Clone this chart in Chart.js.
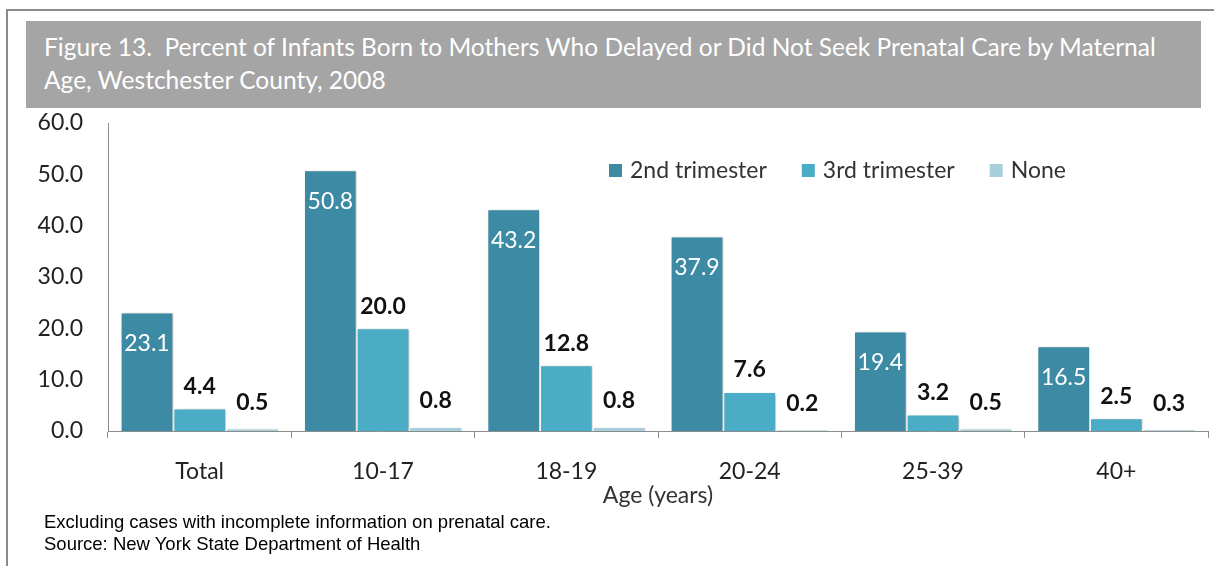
<!DOCTYPE html>
<html lang="en">
<head>
<meta charset="UTF-8" />
<title>Figure 13 - Prenatal Care by Maternal Age</title>
<script src="https://cdn.jsdelivr.net/npm/chart.js"></script>
<style>
  body { margin: 0; background: #fff; }
  .frame { position: relative; width: 1214px; height: 566px; overflow: hidden; }
  .line-top { position: absolute; top: 9px; left: 6px; right: 0; height: 2px; background: #8c8c8c; }
  .line-left { position: absolute; top: 9px; left: 6px; bottom: 0; width: 2px; background: #8c8c8c; }
  .title-box {
    position: absolute; left: 26px; top: 21px; width: 1175px; height: 87px;
    background: #a5a5a5; color: #fff; box-sizing: border-box;
    padding: 9px 0 0 18px; font-family: Lato, sans-serif; font-size: 25px; line-height: 33px;
  }
  .note {
    position: absolute; left: 44px; top: 511px; font-family: "Liberation Sans", Arial, sans-serif;
    font-size: 18.5px; line-height: 22px; color: #000;
  }
  canvas { position: absolute; left: 0; top: 0; }
</style>
</head>
<body>
<div class="frame">
  <div class="line-top"></div>
  <div class="line-left"></div>
  <div class="title-box" id="title">Figure 13.&nbsp; Percent of Infants Born to Mothers Who Delayed or Did Not Seek Prenatal Care by Maternal<br>Age, Westchester County, 2008</div>
  <canvas id="chart" width="1214" height="566"></canvas>
  <div class="note">Excluding cases with incomplete information on prenatal care.<br>Source: New York State Department of Health</div>
</div>
<script>
  const ageGroups = ['Total', '10-17', '18-19', '20-24', '25-39', '40+'];
  const secondTrimester = [23.1, 50.8, 43.2, 37.9, 19.4, 16.5];
  const thirdTrimester = [4.4, 20.0, 12.8, 7.6, 3.2, 2.5];
  const noCare = [0.5, 0.8, 0.8, 0.2, 0.5, 0.3];
  const yTicks = [0, 10, 20, 30, 40, 50, 60];

  const FONT = 'Lato, sans-serif';

  // soft shadow behind the bars, like the Excel original
  const barShadow = {
    id: 'barShadow',
    beforeDatasetsDraw(chart) {
      const ctx = chart.ctx;
      ctx.save();
      ctx.shadowColor = 'rgba(0,0,0,0.28)';
      ctx.shadowBlur = 3;
      ctx.shadowOffsetX = 1.5;
      ctx.shadowOffsetY = 1;
    },
    afterDatasetsDraw(chart) {
      chart.ctx.restore();
    }
  };

  const valueLabels = {
    id: 'valueLabels',
    afterDatasetsDraw(chart) {
      const ctx = chart.ctx;
      const offsets = [31, -22, -26];
      ctx.save();
      ctx.textAlign = 'center';
      ctx.textBaseline = 'middle';
      chart.data.datasets.forEach((ds, i) => {
        const meta = chart.getDatasetMeta(i);
        ctx.font = (i === 0 ? '' : 'bold ') + '23px ' + FONT;
        ctx.fillStyle = i === 0 ? '#ffffff' : '#111111';
        meta.data.forEach((bar, j) => {
          ctx.fillText(ds.data[j].toFixed(1), bar.x, bar.y + offsets[i]);
        });
      });
      ctx.restore();
    }
  };

  const insideLegend = {
    id: 'insideLegend',
    afterDraw(chart) {
      const ctx = chart.ctx;
      let x = 609;
      const y = 171;
      ctx.save();
      ctx.font = '23px ' + FONT;
      ctx.textBaseline = 'middle';
      chart.data.datasets.forEach(ds => {
        ctx.fillStyle = ds.backgroundColor;
        ctx.fillRect(x, y - 7, 13, 13);
        ctx.fillStyle = '#333333';
        ctx.fillText(ds.label, x + 21, y);
        x += 21 + ctx.measureText(ds.label).width + 35;
      });
      ctx.restore();
    }
  };

  // fit the title's first line to the original width
  (function fitTitle() {
    const c = document.createElement('canvas').getContext('2d');
    c.font = '25px ' + FONT;
    const w = c.measureText('Figure 13.\u00a0 Percent of Infants Born to Mothers Who Delayed or Did Not Seek Prenatal Care by Maternal').width;
    document.getElementById('title').style.fontSize = (25 * 1114 / w).toFixed(2) + 'px';
  })();

  new Chart(document.getElementById('chart'), {
    type: 'bar',
    data: {
      labels: ageGroups,
      datasets: [
        { label: '2nd trimester', data: secondTrimester, backgroundColor: '#3c8aa3' },
        { label: '3rd trimester', data: thirdTrimester, backgroundColor: '#4bacc6' },
        { label: 'None', data: noCare, backgroundColor: '#a7cfdc' }
      ]
    },
    options: {
      responsive: false,
      animation: false,
      datasets: {
        bar: {
          categoryPercentage: 0.862,
          barPercentage: 1,
          borderColor: '#ffffff',
          borderWidth: 1
        }
      },
      layout: { padding: { left: 0, top: 123, right: 6, bottom: 55 } },
      plugins: {
        legend: { display: false },
        tooltip: { enabled: false }
      },
      scales: {
        x: {
          afterFit(scale) { scale.height = 80; },
          grid: { display: true, drawOnChartArea: false, drawTicks: true, tickLength: 7, color: '#8c8c8c' },
          border: { color: '#8c8c8c', width: 1 },
          ticks: { color: '#222', font: { family: FONT, size: 23 }, padding: 20 },
          title: {
            display: true, text: 'Age (years)', color: '#333',
            font: { family: FONT, size: 23 }, padding: { top: 0, bottom: 2 }
          }
        },
        y: {
          min: 0,
          max: 60,
          afterFit(scale) { scale.width = 108; },
          afterBuildTicks(scale) { scale.ticks = yTicks.map(v => ({ value: v })); },
          grid: { display: false },
          border: { color: '#8c8c8c', width: 1 },
          ticks: {
            color: '#222', font: { family: FONT, size: 23 }, padding: 17,
            callback: v => Number(v).toFixed(1)
          }
        }
      }
    },
    plugins: [barShadow, valueLabels, insideLegend]
  });
</script>
</body>
</html>
